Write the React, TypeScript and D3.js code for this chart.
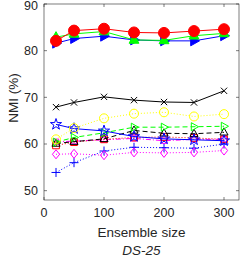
import React, { useEffect, useRef } from 'react';
import * as d3 from 'd3';

const sizes = [20, 50, 100, 150, 200, 250, 300];

const plusBlue = [53.9, 56.0, 58.5, 59.3, 59.2, 59.1, 60.0];
const diamondMagenta = [57.8, 57.9, 57.6, 58.2, 58.1, 58.2, 58.6];
const squareMagenta = [60.5, 60.6, 60.9, 61.2, 60.7, 61.0, 61.0];
const squareRed = [59.7, 60.4, 61.0, 61.4, 61.5, 61.3, 61.0];
const triBlack = [60.1, 60.5, 61.1, 62.9, 62.3, 62.2, 62.5];
const rtriGreen = [60.4, 61.4, 62.4, 63.6, 63.6, 63.7, 63.8];
const starBlue = [64.2, 63.3, 62.8, 61.6, 61.1, 60.9, 60.7];
const circleYellow = [61.0, 63.4, 65.5, 66.5, 66.8, 65.9, 66.4];
const crossBlack = [67.9, 68.9, 70.1, 69.4, 69.0, 68.9, 71.4];
const rtriBlue = [81.6, 82.6, 83.1, 82.3, 82.1, 82.1, 83.2];
const triGreen = [82.9, 83.6, 84.1, 82.3, 82.2, 83.2, 83.7];
const circleRed = [82.1, 84.3, 84.7, 83.9, 83.8, 84.2, 84.6];

const yTicks = [50, 60, 70, 80, 90];
const xTicks = [0, 100, 200, 300];

type Series = { values: number[]; color: string; dash: string; marker: string; fill: boolean; r: number };

const series: Series[] = [
  { values: plusBlue, color: '#0000ff', dash: '1,2', marker: 'plus', fill: false, r: 4.5 },
  { values: diamondMagenta, color: '#ff00ff', dash: '1,2', marker: 'diamond', fill: false, r: 4.5 },
  { values: squareMagenta, color: '#ff00ff', dash: '5,2,1,2', marker: 'square', fill: false, r: 3.5 },
  { values: squareRed, color: '#ff0000', dash: '1,2', marker: 'square', fill: false, r: 4.5 },
  { values: triBlack, color: '#000000', dash: '5,3', marker: 'triangle', fill: false, r: 4.5 },
  { values: rtriGreen, color: '#00ff00', dash: '5,3', marker: 'rtri', fill: false, r: 4.5 },
  { values: starBlue, color: '#0000ff', dash: '', marker: 'star', fill: false, r: 4.2 },
  { values: circleYellow, color: '#ffff00', dash: '1,2', marker: 'circle', fill: false, r: 4.5 },
  { values: crossBlack, color: '#000000', dash: '', marker: 'x', fill: false, r: 4.5 },
  { values: rtriBlue, color: '#0000ff', dash: '', marker: 'rtri', fill: true, r: 5.5 },
  { values: triGreen, color: '#00ff00', dash: '', marker: 'triangle', fill: true, r: 5.5 },
  { values: circleRed, color: '#ff0000', dash: '', marker: 'circle', fill: true, r: 5.5 },
];

const markerPath = (m: string, r: number) => {
  switch (m) {
    case 'plus': return `M${-r},0H${r}M0,${-r}V${r}`;
    case 'x': { const a = r * 0.7; return `M${-a},${-a}L${a},${a}M${-a},${a}L${a},${-a}`; }
    case 'diamond': return `M0,${-r}L${r * 0.8},0L0,${r}L${-r * 0.8},0Z`;
    case 'square': { const a = r * 0.75; return `M${-a},${-a}H${a}V${a}H${-a}Z`; }
    case 'triangle': return `M0,${-r}L${r * 0.9},${r * 0.6}L${-r * 0.9},${r * 0.6}Z`;
    case 'rtri': return `M${r},0L${-r * 0.6},${r * 0.9}L${-r * 0.6},${-r * 0.9}Z`;
    case 'circle': return d3.symbol(d3.symbolCircle, Math.PI * r * r)() as string;
    case 'star': return d3.symbol(d3.symbolStar, r * r * 2.2)() as string;
    default: return '';
  }
};

const App = () => {
  const svgRef = useRef<SVGSVGElement>(null);

  useEffect(() => {
    const svg = d3.select(svgRef.current);
    svg.selectAll('*').remove();
    const left = 44, right = 239, top = 4, bottom = 200;
    const font = 'Helvetica, Arial, "Liberation Sans", sans-serif';

    const x = d3.scaleLinear().domain([0, 325]).range([left, right]);
    const y = d3.scaleLinear().domain([48, 90]).range([bottom, top]);

    svg.append('rect').attr('x', left).attr('y', top).attr('width', right - left).attr('height', bottom - top)
      .attr('fill', '#fff').attr('stroke', '#262626').attr('stroke-width', 0.6);

    const g = svg.append('g');
    series.forEach((s) => {
      const line = d3.line<number>().x((_, i) => x(sizes[i])).y((d) => y(d));
      g.append('path').datum(s.values).attr('d', line).attr('fill', 'none')
        .attr('stroke', s.color).attr('stroke-width', 1).attr('stroke-dasharray', s.dash || null);
      g.selectAll(null).data(s.values).enter().append('path')
        .attr('transform', (d, i) => `translate(${x(sizes[i])},${y(d)})`)
        .attr('d', markerPath(s.marker, s.r))
        .attr('fill', s.fill ? s.color : 'none')
        .attr('stroke', s.color).attr('stroke-width', 1);
    });

    const ax = svg.append('g').attr('font-family', font).attr('font-size', 12.5).attr('fill', '#262626');
    yTicks.forEach((t) => {
      ax.append('line').attr('x1', left).attr('x2', left + 3).attr('y1', y(t)).attr('y2', y(t)).attr('stroke', '#262626').attr('stroke-width', 0.6);
      ax.append('line').attr('x1', right).attr('x2', right - 3).attr('y1', y(t)).attr('y2', y(t)).attr('stroke', '#262626').attr('stroke-width', 0.6);
      ax.append('text').attr('x', left - 6).attr('y', Math.max(y(t), 5.5)).attr('dy', '0.35em').attr('text-anchor', 'end').text(t);
    });
    xTicks.forEach((t) => {
      ax.append('line').attr('x1', x(t)).attr('x2', x(t)).attr('y1', bottom).attr('y2', bottom - 3).attr('stroke', '#262626').attr('stroke-width', 0.6);
      ax.append('line').attr('x1', x(t)).attr('x2', x(t)).attr('y1', top).attr('y2', top + 3).attr('stroke', '#262626').attr('stroke-width', 0.6);
      ax.append('text').attr('x', x(t)).attr('y', 213).attr('dy', '0.35em').attr('text-anchor', 'middle').text(t);
    });
    ax.append('text').attr('x', (left + right) / 2).attr('y', 232).attr('dy', '0.35em').attr('text-anchor', 'middle').attr('font-size', 13.5).text('Ensemble size');
    ax.append('text').attr('transform', 'translate(13,98) rotate(-90)').attr('dy', '0.35em').attr('text-anchor', 'middle').attr('font-size', 13.5).text('NMI (%)');
    ax.append('text').attr('x', (left + right) / 2).attr('y', 250).attr('dy', '0.35em').attr('text-anchor', 'middle').attr('font-size', 13.5).attr('font-style', 'italic').text('DS-25');
  }, []);

  return (
    <svg ref={svgRef} width={241} height={257} style={{ position: 'absolute', left: 0, top: 0, background: '#fff' }} />
  );
};

export default App;
